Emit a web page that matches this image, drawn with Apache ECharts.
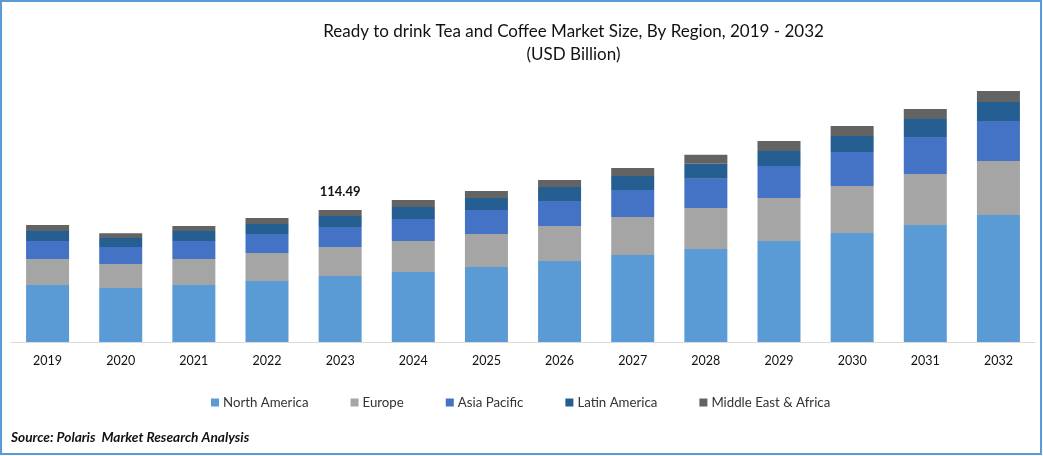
<!DOCTYPE html>
<html>
<head>
<meta charset="utf-8">
<style>
    html, body { margin: 0; padding: 0; background: #fff; }
    #chart { width: 1043px; height: 456px; }
</style>
<script src="https://cdn.jsdelivr.net/npm/echarts@6/dist/echarts.min.js"></script>
</head>
<body>
<div id="chart"></div>
<script>
let years = ['2019', '2020', '2021', '2022', '2023', '2024', '2025', '2026', '2027', '2028', '2029', '2030', '2031', '2032']
let northAmerica = [49.4, 46.8, 49.4, 52.9, 57.24, 60.7, 65.0, 70.3, 75.5, 80.7, 87.6, 94.5, 101.5, 110.1]
let europe = [22.6, 20.8, 22.6, 24.3, 25.15, 26.9, 28.6, 30.4, 33.0, 35.6, 37.3, 40.8, 44.2, 46.8]
let asiaPacific = [15.6, 14.7, 15.6, 16.5, 17.35, 19.1, 20.8, 21.7, 23.4, 25.2, 27.8, 29.5, 32.1, 34.7]
let latinAmerica = [8.7, 7.8, 8.7, 8.7, 9.54, 10.4, 10.4, 12.1, 12.1, 13.0, 13.0, 13.9, 15.6, 16.5]
let middleEast = [5.2, 4.3, 4.3, 5.2, 5.21, 6.1, 6.1, 6.1, 6.9, 7.8, 8.7, 8.7, 8.7, 9.5]
let labelYear = '2023'
let labelText = '114.49'

let fontName = 'Lato'
let myChart = echarts.init(document.getElementById('chart'), null, {renderer: 'canvas'})

function stack(name, data, color) {
    return {name, type: 'bar', stack: 'total', data, barWidth: 43, itemStyle: {color}}
}

let series = [
    stack('North America', northAmerica, '#5b9bd5'),
    stack('Europe', europe, '#a5a5a5'),
    stack('Asia Pacific', asiaPacific, '#4472c4'),
    stack('Latin America', latinAmerica, '#255e91'),
    stack('Middle East & Africa', middleEast, '#636363')
]
// only the 2023 bar carries a total
series[4].label = {
    show: true,
    position: 'top',
    distance: 12,
    color: '#111',
    fontFamily: fontName,
    fontWeight: 'bold',
    fontSize: 13,
    formatter: (p) => p.name === labelYear ? labelText : ''
}

let option = {
    animation: false,
    backgroundColor: '#fff',
    textStyle: {fontFamily: fontName},
    title: [
        {
            text: 'Ready to drink Tea and Coffee Market Size, By Region, 2019 - 2032\n(USD Billion)',
            left: 568.5,
            top: 15,
            textAlign: 'center',
            textStyle: {fontFamily: fontName, fontWeight: 'normal', fontSize: 17, lineHeight: 23, color: '#111'}
        },
        {
            text: 'Source: Polaris  Market Research Analysis',
            left: 6,
            top: 426,
            textStyle: {fontFamily: fontName, fontWeight: 'bold', fontStyle: 'italic', fontSize: 13.7, color: '#111'}
        }
    ],
    legend: {
        left: 206,
        top: 391,
        itemWidth: 8,
        itemHeight: 8,
        itemGap: 42,
        icon: 'rect',
        textStyle: {fontFamily: fontName, fontSize: 13.25, color: '#333', padding: [0, 0, 0, -1]},
        selectedMode: false
    },
    grid: {left: 11, right: 8, top: 42, bottom: 114},
    xAxis: {
        type: 'category',
        data: years,
        axisLine: {lineStyle: {color: '#d9d9d9', width: 1}},
        axisTick: {show: false},
        axisLabel: {color: '#111', fontFamily: fontName, fontSize: 12.5, margin: 12}
    },
    yAxis: {type: 'value', min: 0, max: 260.2, show: false},
    series,
    graphic: [{
        type: 'rect',
        silent: true,
        z: 100,
        shape: {x: 1, y: 1, width: 1040, height: 453},
        style: {fill: 'none', stroke: '#5b9bd5', lineWidth: 2}
    }]
}
myChart.setOption(option)
</script>
</body>
</html>
